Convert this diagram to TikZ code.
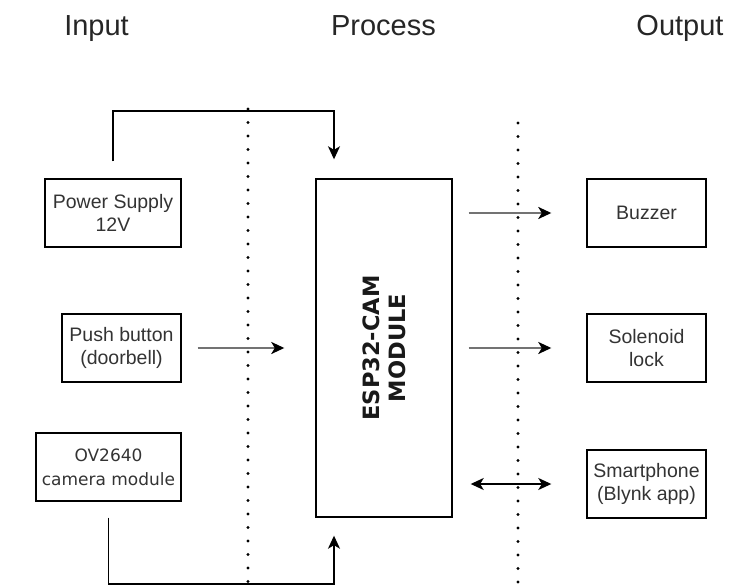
\documentclass[tikz,border=0pt]{standalone}
\usepackage{fontspec}
\setmainfont{Liberation Sans}
\newfontfamily\verdana{DejaVu Sans}
\usetikzlibrary{arrows.meta}
\begin{document}
\begin{tikzpicture}[x=1pt,y=-1pt]
	\tikzset{block/.style = {shape=rectangle,draw,line width=1.4pt,inner sep=0pt,minimum width=119pt,minimum height=68pt,align=center,text=black!80,font=\fontsize{19.5}{23}\selectfont}}
	\tikzset{title/.style = {anchor=base,text=black!85,font=\fontsize{29}{34}\selectfont}}
	\tikzset{link/.style = {-{Stealth[length=13pt,width=12pt,inset=3.5pt]},line width=1.6pt}}
	\tikzset{flow/.style = {draw=black!55,line width=2.2pt,-{Stealth[length=13pt,width=12pt,inset=3.5pt,black]}}}
	\tikzset{border/.style = {line width=3.4pt,line cap=round,dash pattern=on 0pt off 13.5pt}}
	\useasboundingbox (0,0) rectangle (729,586);
	% headings
	\node[title] (in) at (96.5,36) {Input};
	\node[title] (proc) at (383.5,36) {Process};
	\node[title] (out) at (680,36) {Output};
	% column borders
	\draw[border] (248,109) -- (248,586);
	\draw[border] (518,123) -- (518,586);
	% input side
	\node[block,minimum width=136pt] (power) at (113,213) {Power Supply\\12V};
	\node[block] (push) at (121.5,348) {Push button\\(doorbell)};
	\node[block,minimum width=145pt,font=\verdana\fontsize{17}{24}\selectfont] (cam) at (108.5,467) {OV2640\\camera module};
	% process
	\node[block,minimum width=136pt,minimum height=338pt] (esp) at (384,348) {};
	\node[rotate=90,align=center,text=black!90,font=\verdana\bfseries\fontsize{22.5}{26}\selectfont] (esplabel) at (esp) {ESP32-CAM\\MODULE};
	% output side
	\node[block] (buzzer) at (646.5,213) {Buzzer};
	\node[block] (lock) at (646.5,348) {Solenoid\\lock};
	\node[block] (phone) at (646.5,484) {Smartphone\\(Blynk app)};
	% connectors
	\draw[link,shorten <=17pt,shorten >=19pt] (power.north) -- ++(0,-67) -| ([xshift=-50pt]esp.north);
	\draw[link,shorten <=16pt,shorten >=18pt] (cam.south) -- ++(0,82) -| ([xshift=-50pt]esp.south);
	\path[flow] (push) edge[shorten <=16pt,shorten >=31pt] (esp);
	\draw[flow,shorten <=16pt,shorten >=35pt] (esp.east |- buzzer) -- (buzzer.west);
	\path[flow] (esp) edge[shorten <=16pt,shorten >=35pt] (lock);
	\draw[link,{Stealth[length=13pt,width=12pt,inset=3.5pt]}-{Stealth[length=13pt,width=12pt,inset=3.5pt]},shorten <=18pt,shorten >=35pt] (esp.east |- phone) -- (phone.west);
\end{tikzpicture}
\end{document}
